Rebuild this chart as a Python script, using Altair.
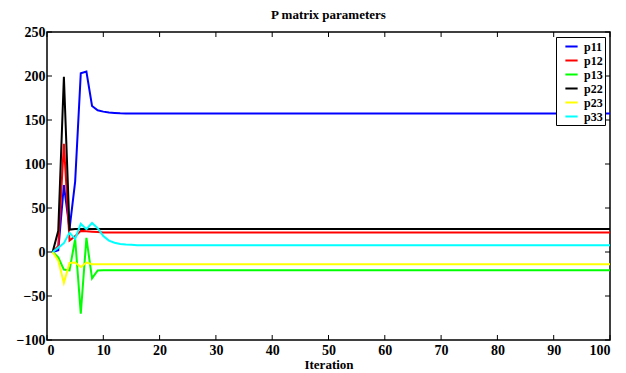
import altair as alt
import pandas as pd

N = 100
iterations = list(range(1, N + 1))

p11_head = [0, 2, 76, 26, 80, 203, 205, 166, 161, 159.5, 158.5, 158, 157.6]
p11_tail = 157.4
p12_head = [0, 7, 123, 13, 18, 24, 23.5, 23, 22.6]
p12_tail = 22.3
p13_head = [0, -6, -20, -21, 15, -70, 16, -30, -21]
p13_tail = -20.8
p22_head = [0, 24, 199, 25.5, 26, 26]
p22_tail = 26
p23_head = [0, -10, -35, -12.5, -12, -17, -12, -14]
p23_tail = -14
p33_head = [0, 5, 10, 22, 15, 32, 26, 33, 27, 18, 13, 10.5, 9.2, 8.5, 8.1]
p33_tail = 7.7

series_names = ["p11", "p12", "p13", "p22", "p23", "p33"]
series_colors = ["#0000ff", "#ff0000", "#00ff00", "#000000", "#ffff00", "#00ffff"]
heads = [p11_head, p12_head, p13_head, p22_head, p23_head, p33_head]
tails = [p11_tail, p12_tail, p13_tail, p22_tail, p23_tail, p33_tail]

x_ticks = [0, 10, 20, 30, 40, 50, 60, 70, 80, 90, 100]
y_ticks = [-100, -50, 0, 50, 100, 150, 200, 250]

rows = []
for name, head, tail in zip(series_names, heads, tails):
    vals = head + [tail] * (N - len(head))
    for it, v in zip(iterations, vals):
        rows.append({"Iteration": it, "value": v, "series": name})
df = pd.DataFrame(rows)

W, H = 563, 308
FONT = "Liberation Serif"
xs = alt.Scale(domain=[0, 100], nice=False, zero=False)
ys = alt.Scale(domain=[-100, 250], nice=False, zero=False)
x_axis = alt.Axis(values=x_ticks, format="d", title="Iteration")
y_axis = alt.Axis(values=y_ticks, format="d", title=None)

lines = alt.Chart(df).mark_line(strokeWidth=2, clip=True).encode(
    x=alt.X("Iteration:Q", scale=xs, axis=x_axis),
    y=alt.Y("value:Q", scale=ys, axis=y_axis),
    color=alt.Color("series:N", scale=alt.Scale(domain=series_names, range=series_colors),
                    legend=alt.Legend(title=None, orient="none", legendX=509, legendY=5,
                                      symbolType="stroke", symbolSize=150,
                                      symbolStrokeWidth=2, symbolOffset=6,
                                      labelFont=FONT, labelFontSize=12,
                                      labelFontWeight="bold", labelColor="black",
                                      labelOffset=5, rowPadding=0, padding=2,
                                      strokeColor="black", fillColor="white")),
    order=alt.Order("Iteration:Q"),
)

xdf = pd.DataFrame({"t": x_ticks})
ydf = pd.DataFrame({"t": y_ticks})
tick_len = 5
bottom = alt.Chart(xdf).mark_rule(color="black", strokeWidth=1).encode(
    x=alt.X("t:Q", scale=xs, axis=x_axis), y=alt.value(H), y2=alt.value(H - tick_len))
top = alt.Chart(xdf).mark_rule(color="black", strokeWidth=1).encode(
    x=alt.X("t:Q", scale=xs, axis=x_axis), y=alt.value(0), y2=alt.value(tick_len))
left = alt.Chart(ydf).mark_rule(color="black", strokeWidth=1).encode(
    y=alt.Y("t:Q", scale=ys, axis=y_axis), x=alt.value(0), x2=alt.value(tick_len))
right = alt.Chart(ydf).mark_rule(color="black", strokeWidth=1).encode(
    y=alt.Y("t:Q", scale=ys, axis=y_axis), x=alt.value(W - tick_len), x2=alt.value(W))

chart = alt.layer(lines, bottom, top, left, right).properties(
    width=W, height=H,
    title=alt.TitleParams("P matrix parameters", font=FONT, fontSize=13,
                          fontWeight="bold", color="black", offset=3),
    autosize=alt.AutoSizeParams(type="none"),
    padding={"left": 39, "top": 24, "right": 8, "bottom": 33},
).configure_view(
    stroke="black", strokeWidth=1.5
).configure_axis(
    labelFont=FONT, labelFontSize=14, labelFontWeight="bold", labelColor="black",
    titleFont=FONT, titleFontSize=13, titleFontWeight="bold", titleColor="black",
    domain=False, ticks=False, grid=False,
).configure_axisX(
    labelPadding=3, titlePadding=1,
).configure_axisY(
    labelPadding=2,
)

chart.save("out.html", embed_options={"renderer": "svg", "actions": False})
